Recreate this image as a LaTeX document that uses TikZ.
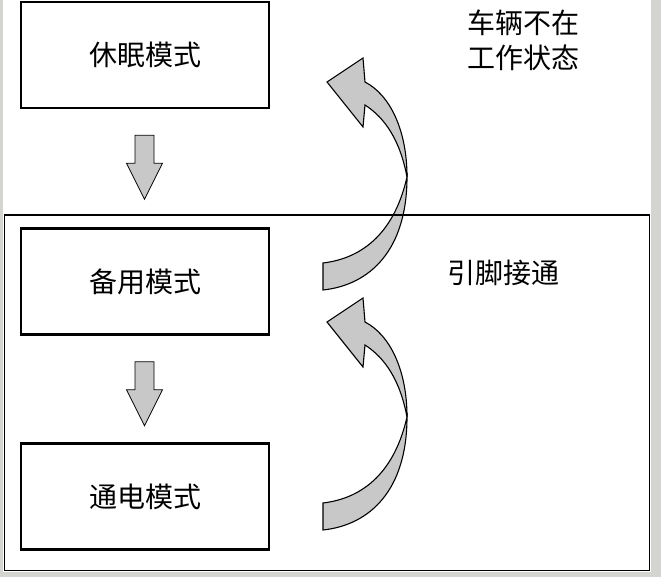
\documentclass[tikz,border=0pt]{standalone}
\usepackage{fontspec}
\newfontfamily\cjk{Noto Sans CJK SC}
\definecolor{framegray}{RGB}{212,212,208}
\definecolor{arrowgray}{RGB}{200,200,200}
\usetikzlibrary{calc}

\begin{document}
\begin{tikzpicture}[x=1pt, y=-1pt,
      modebox/.style={
          draw=black,
          line width=2.6pt,
          minimum width=248pt,
          minimum height=106pt,
          font=\cjk\fontsize{28}{35}\selectfont
        },
      note/.style={
          font=\cjk\fontsize{28}{35}\selectfont,
          align=center
        },
      blockarrow/.style={draw=black, fill=arrowgray, line width=0.8pt, line join=miter},
      turnarrow/.style={draw=black, fill=arrowgray, line width=1.1pt, line join=miter}
    ]
    \useasboundingbox (0,0) rectangle (661,577);
    \fill[framegray] (0,0) rectangle (661,577);
    \fill[white] (3,0) rectangle (651,572);

    % outer frame
    \draw[line width=1.8pt] (4.5,215) rectangle (649.5,570.5);

    \node[modebox] (sleep) at (145,55) {休眠模式};
    \node[modebox] (standby) at (145,281.5) {备用模式};
    \node[modebox] (poweron) at (145,496.5) {通电模式};

    \node[note] (idle) at (523,40) {车辆不在\\工作状态};
    \node[note] (pin) at (503,273) {引脚接通};

    % down arrows
    \coordinate (a1) at ($(sleep.south)+(-0.5,26)$);
    \coordinate (a2) at ($(standby.south)+(-0.5,26)$);
    \foreach \c in {a1,a2} {
      \draw[blockarrow] (\c) ++(-9.5,0) -- ++(19,0) -- ++(0,28) -- ++(8.5,0)
        -- ++(-18,36) -- ++(-18,-36) -- ++(8.5,0) -- cycle;
    }

    % curved arrows
    \foreach \dy in {0,240} {
      \begin{scope}[yshift=-\dy pt]
        \draw[turnarrow] (323,263) .. controls (365,258) and (395,230) .. (407,177)
          .. controls (407,250) and (370,285) .. (323,290) -- cycle;
        \draw[turnarrow] (407,177) .. controls (407,130) and (390,95) .. (365,82)
          -- (363,58) -- (327,82) -- (363,127) -- (365,105)
          .. controls (385,118) and (400,140) .. (407,177) -- cycle;
      \end{scope}
    }
    \draw[line width=1.8pt] (4.5,215) -- (649.5,215);
  \end{tikzpicture}
\end{document}
